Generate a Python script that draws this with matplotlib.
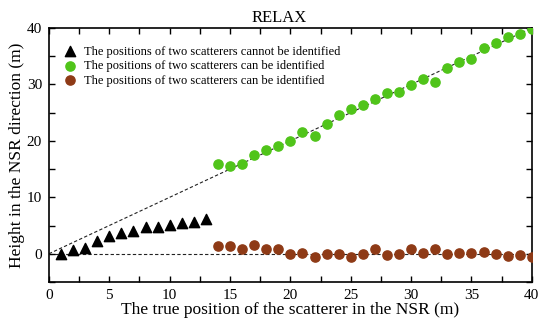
import numpy as np
import matplotlib
matplotlib.use("Agg")
import matplotlib.pyplot as plt
from matplotlib.ticker import MultipleLocator

plt.rcParams['font.family'] = ['Liberation Serif', 'DejaVu Serif']

# true positions
x_fail = list(range(1, 14))
x_ok = list(range(14, 41))

# estimated heights
y_fail = [0.0, 0.6, 1.1, 2.2, 3.1, 3.6, 4.1, 4.7, 4.7, 5.1, 5.4, 5.7, 6.1]
y_green = [15.9, 15.5, 15.9, 17.5, 18.4, 19.0, 19.9, 21.5, 20.9, 23.0,
           24.5, 25.6, 26.3, 27.4, 28.4, 28.7, 29.9, 30.9, 30.4, 32.9,
           33.9, 34.5, 36.4, 37.4, 38.4, 38.9, 39.8]
y_brown = [1.4, 1.4, 0.9, 1.6, 0.8, 0.9, 0.0, 0.1, -0.5, 0.0,
           -0.1, -0.5, 0.0, 0.9, -0.2, 0.0, 0.9, 0.2, 0.9, 0.0,
           0.2, 0.1, 0.3, 0.0, -0.4, -0.2, -0.5]

ref_x = [0, 40]

fig = plt.figure(figsize=(5.5, 3.29), dpi=100)
ax = fig.add_axes([0.089, 0.143, 0.878, 0.772])

# reference lines
ax.plot(ref_x, ref_x, linestyle=(0, (3, 2)), color='#222222', linewidth=0.8, zorder=1)
ax.plot(ref_x, [0, 0], linestyle=(0, (3, 2)), color='#222222', linewidth=0.8, zorder=1)

ax.scatter(x_fail, y_fail, marker='^', s=55, color='black', zorder=3,
           label='The positions of two scatterers cannot be identified')
ax.scatter(x_ok, y_green, marker='o', s=44, color='#50c41a', zorder=3,
           label='The positions of two scatterers can be identified')
ax.scatter(x_ok, y_brown, marker='o', s=44, color='#8e3a16', zorder=3,
           label='The positions of two scatterers can be identified')

ax.set_xlim(0, 40)
ax.set_ylim(-5, 40)
ax.xaxis.set_major_locator(MultipleLocator(5))
ax.xaxis.set_minor_locator(MultipleLocator(2.5))
ax.yaxis.set_major_locator(MultipleLocator(10))
ax.yaxis.set_minor_locator(MultipleLocator(5))
ax.tick_params(which='both', direction='in', top=True, right=True,
               length=4, width=1, labelsize=11, pad=5)
for sp in ax.spines.values():
    sp.set_linewidth(1.2)

ax.set_xlabel('The true position of the scatterer in the NSR (m)', fontsize=12.5, labelpad=0)
ax.set_ylabel('Height in the NSR direction (m)', fontsize=12.5, labelpad=1)
# title sits roughly over the middle of the figure
fig.text(0.507, 1 - 17.5 / 329, 'RELAX', fontsize=12, ha='center', va='center')

ax.legend(loc='upper left', bbox_to_anchor=(0.0, 0.975), frameon=False,
          fontsize=9, labelspacing=0.2, handletextpad=0.4, borderaxespad=0.5,
          handlelength=1.5)

fig.savefig('out.png', dpi=100)
